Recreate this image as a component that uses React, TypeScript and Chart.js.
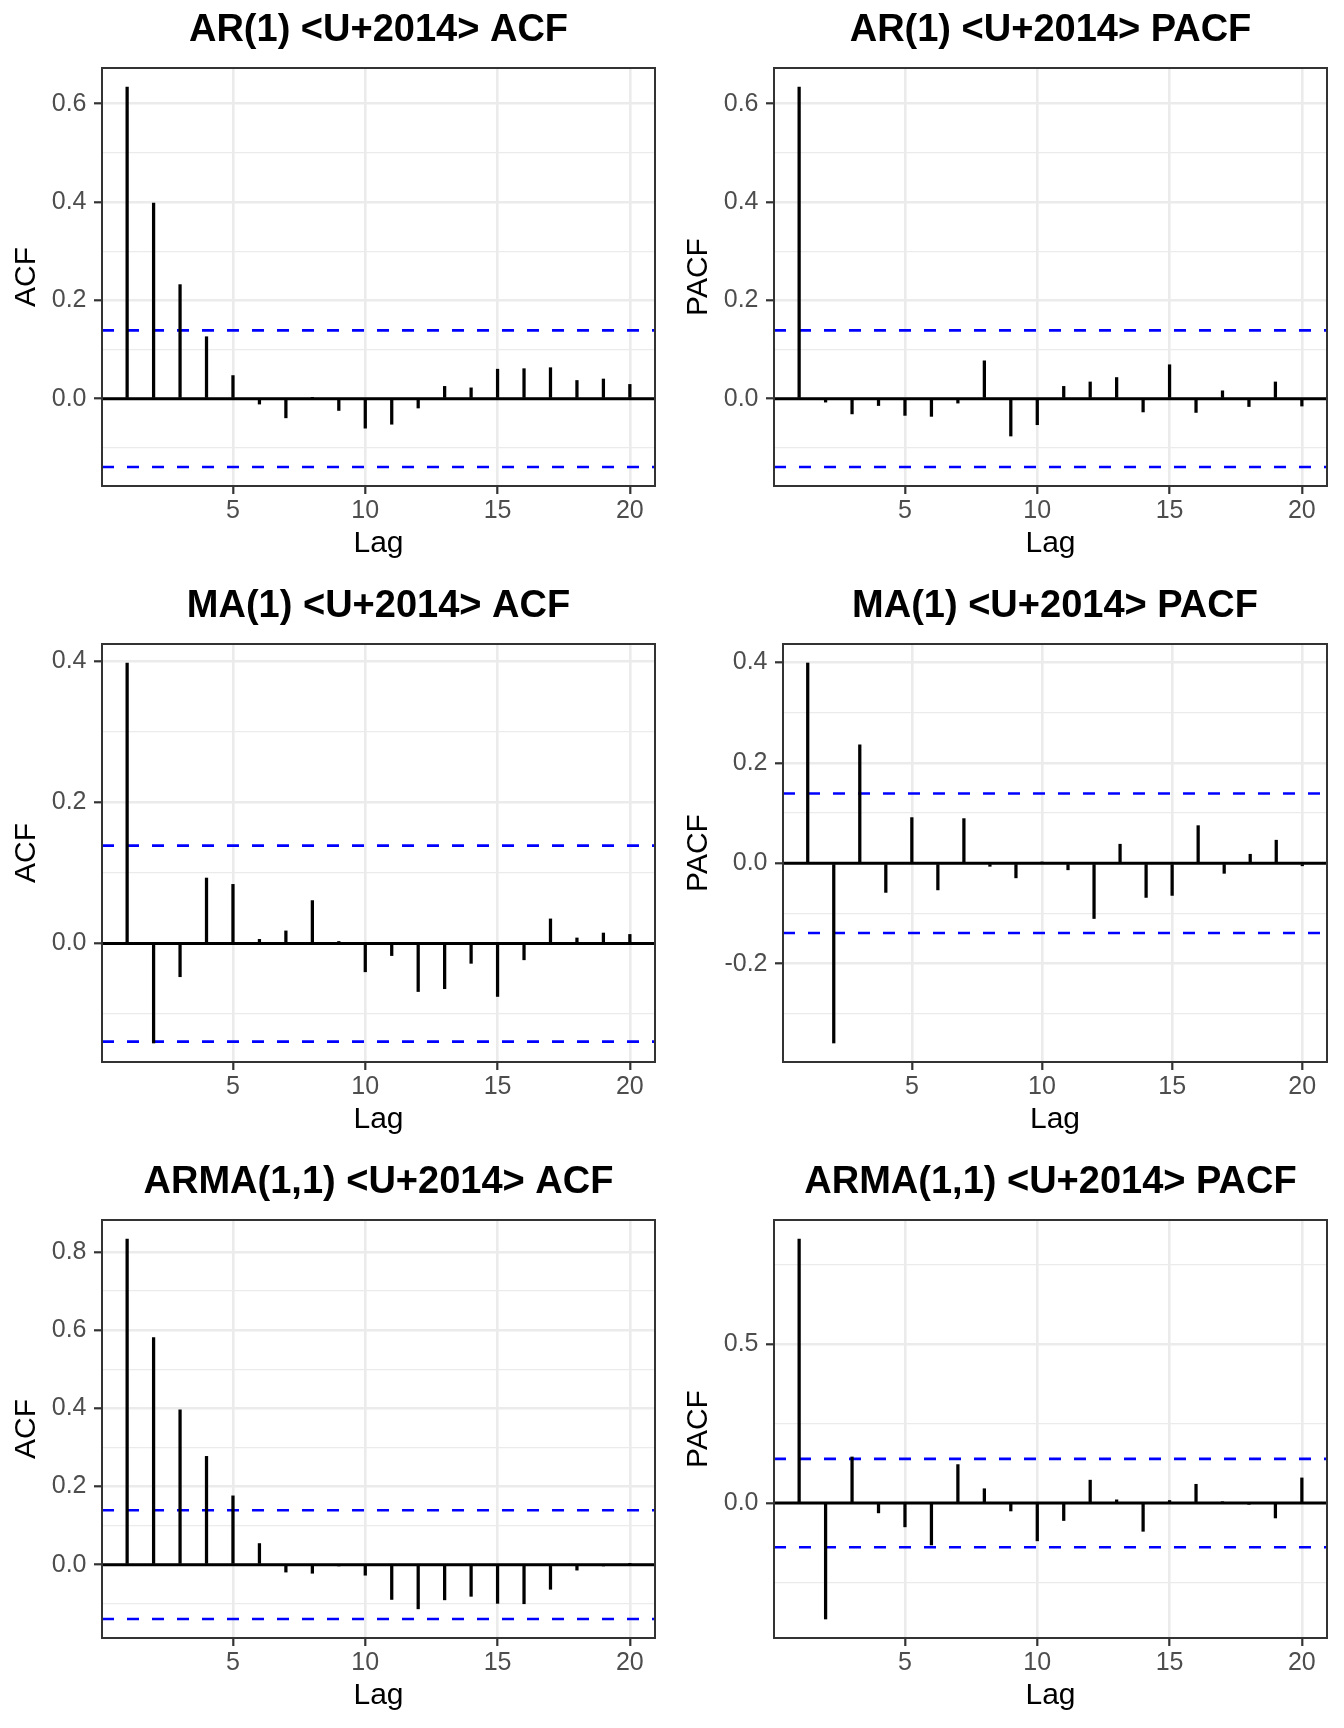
import React, { useEffect, useRef } from "react";
import { Chart, registerables } from "chart.js";

Chart.register(...registerables);

// ---------------- data ----------------
const lags = [1, 2, 3, 4, 5, 6, 7, 8, 9, 10, 11, 12, 13, 14, 15, 16, 17, 18, 19, 20];

const arAcf = [0.634, 0.398, 0.232, 0.126, 0.047, -0.011, -0.039, 0.002, -0.024, -0.06, -0.052, -0.019, 0.025, 0.022, 0.06, 0.061, 0.063, 0.037, 0.04, 0.029];
const arPacf = [0.634, -0.007, -0.031, -0.014, -0.034, -0.036, -0.009, 0.077, -0.076, -0.053, 0.025, 0.034, 0.043, -0.027, 0.069, -0.028, 0.016, -0.016, 0.034, -0.015];
const maAcf = [0.398, -0.141, -0.047, 0.093, 0.084, 0.006, 0.018, 0.061, 0.003, -0.04, -0.017, -0.068, -0.064, -0.028, -0.075, -0.023, 0.035, 0.008, 0.015, 0.013];
const maPacf = [0.399, -0.358, 0.236, -0.058, 0.091, -0.053, 0.089, -0.006, -0.029, 0.001, -0.013, -0.11, 0.038, -0.068, -0.064, 0.075, -0.02, 0.018, 0.046, -0.005];
const armaAcf = [0.833, 0.581, 0.396, 0.277, 0.176, 0.054, -0.019, -0.022, -0.002, -0.027, -0.089, -0.113, -0.09, -0.081, -0.099, -0.1, -0.063, -0.014, -0.002, 0.001];
const armaPacf = [0.831, -0.365, 0.145, -0.031, -0.075, -0.132, 0.121, 0.045, -0.025, -0.119, -0.055, 0.072, 0.01, -0.089, 0.008, 0.059, 0.001, -0.001, -0.047, 0.079];

const ciBound = 0.139;

const titles = [
  "AR(1) <U+2014> ACF",
  "AR(1) <U+2014> PACF",
  "MA(1) <U+2014> ACF",
  "MA(1) <U+2014> PACF",
  "ARMA(1,1) <U+2014> ACF",
  "ARMA(1,1) <U+2014> PACF",
];
const yLabels = ["ACF", "PACF", "ACF", "PACF", "ACF", "PACF"];
const seriesList = [arAcf, arPacf, maAcf, maPacf, armaAcf, armaPacf];
const majorSteps = [0.2, 0.2, 0.2, 0.2, 0.2, 0.5];
const minorSteps = [0.1, 0.1, 0.1, 0.1, 0.1, 0.25];
const xTickStep = 5;

// ---------------- layout ----------------
const PANEL_W = 672;
const PANEL_H = 576;
const FONT = "'Liberation Sans', Arial, Helvetica, sans-serif";
const GRID = "#ebebeb";

const borderPlugin = {
  id: "panelBorder",
  afterDatasetsDraw(chart: any) {
    const { ctx, chartArea } = chart;
    const { left, top, right, bottom } = chartArea;
    ctx.save();
    ctx.strokeStyle = "#333333";
    ctx.lineWidth = 2;
    ctx.strokeRect(left, top, right - left, bottom - top);
    ctx.restore();
  },
};

function Panel({ idx, left, top }: { idx: number; left: number; top: number }) {
  const ref = useRef<HTMLCanvasElement | null>(null);

  useEffect(() => {
    const values = seriesList[idx];
    const major = majorSteps[idx];
    const minor = minorSteps[idx];
    const yAxisWidth = idx === 3 ? 111 : 102;

    const lo0 = Math.min(Math.min(...values), -ciBound);
    const hi0 = Math.max(Math.max(...values), ciBound);
    const yMin = lo0 - 0.05 * (hi0 - lo0);
    const yMax = hi0 + 0.05 * (hi0 - lo0);
    const l0 = lags[0];
    const l1 = lags[lags.length - 1];
    const xMin = l0 - 0.05 * (l1 - l0);
    const xMax = l1 + 0.05 * (l1 - l0);

    const isMajor = (v: number) => {
      const r = v / major;
      return Math.abs(r - Math.round(r)) < 1e-6;
    };

    const chart = new Chart(ref.current as HTMLCanvasElement, {
      type: "bar",
      data: {
        datasets: [
          {
            type: "bar",
            data: lags.map((l, i) => ({ x: l, y: values[i] })),
            backgroundColor: "#000000",
            borderWidth: 0,
            barThickness: 2.6,
            order: 0,
          } as any,
          {
            type: "line",
            data: [
              { x: xMin, y: ciBound },
              { x: xMax, y: ciBound },
            ],
            borderColor: "#0000ff",
            borderWidth: 2.6,
            borderDash: [12, 13],
            pointRadius: 0,
            order: 1,
          } as any,
          {
            type: "line",
            data: [
              { x: xMin, y: -ciBound },
              { x: xMax, y: -ciBound },
            ],
            borderColor: "#0000ff",
            borderWidth: 2.6,
            borderDash: [12, 13],
            pointRadius: 0,
            order: 1,
          } as any,
          {
            type: "line",
            data: [
              { x: xMin, y: 0 },
              { x: xMax, y: 0 },
            ],
            borderColor: "#000000",
            borderWidth: 3,
            pointRadius: 0,
            order: 2,
          } as any,
        ],
      },
      options: {
        responsive: false,
        animation: false,
        layout: { padding: { left: 0, right: 17, top: 0, bottom: 0 } },
        plugins: {
          legend: { display: false },
          tooltip: { enabled: false },
          title: {
            display: true,
            text: titles[idx],
            color: "#000000",
            font: { family: FONT, size: 38, weight: "bold" },
            padding: { top: 8.2, bottom: 14.2 },
            fullSize: false,
          },
        },
        scales: {
          x: {
            type: "linear",
            min: xMin,
            max: xMax,
            offset: false,
            border: { display: false },
            grid: {
              color: GRID,
              lineWidth: 2.6,
              offset: false,
              drawTicks: true,
              tickLength: 8,
              tickColor: "#333333",
              tickWidth: 2.2,
            },
            ticks: {
              stepSize: xTickStep,
              includeBounds: false,
              autoSkip: false,
              maxRotation: 0,
              color: "#4d4d4d",
              font: { family: FONT, size: 25 },
              padding: 2.5,
              callback: (v: any) => String(v),
            },
            title: {
              display: true,
              text: "Lag",
              color: "#000000",
              font: { family: FONT, size: 30 },
              padding: { top: 0, bottom: 14.5 },
            },
            afterFit: (s: any) => {
              s.height = 90;
            },
          } as any,
          y: {
            type: "linear",
            min: yMin,
            max: yMax,
            border: { display: false },
            grid: {
              color: GRID,
              lineWidth: (c: any) => (c.tick && isMajor(c.tick.value) ? 2.6 : 1.3),
              drawTicks: true,
              tickLength: 8,
              tickColor: (c: any) => (c.tick && isMajor(c.tick.value) ? "#333333" : "rgba(0,0,0,0)"),
              tickWidth: 2.2,
            },
            ticks: {
              stepSize: minor,
              includeBounds: false,
              autoSkip: false,
              color: "#4d4d4d",
              font: { family: FONT, size: 25 },
              padding: 7.5,
              callback: (v: any) => (isMajor(Number(v)) ? Number(v).toFixed(1) : ""),
            },
            title: {
              display: true,
              text: yLabels[idx],
              color: "#000000",
              font: { family: FONT, size: 30 },
              padding: { top: 9, bottom: 0 },
            },
            afterFit: (s: any) => {
              s.width = yAxisWidth;
            },
          } as any,
        },
      } as any,
      plugins: [borderPlugin],
    });

    return () => chart.destroy();
  }, [idx]);

  return (
    <canvas
      ref={ref}
      width={PANEL_W}
      height={PANEL_H}
      style={{ position: "absolute", left, top, width: PANEL_W, height: PANEL_H }}
    />
  );
}

export default function App() {
  return (
    <div
      style={{
        position: "absolute",
        left: 0,
        top: 0,
        width: PANEL_W * 2,
        height: PANEL_H * 3,
        background: "#ffffff",
      }}
    >
      {titles.map((_, i) => (
        <Panel key={i} idx={i} left={(i % 2) * PANEL_W} top={Math.floor(i / 2) * PANEL_H} />
      ))}
    </div>
  );
}
